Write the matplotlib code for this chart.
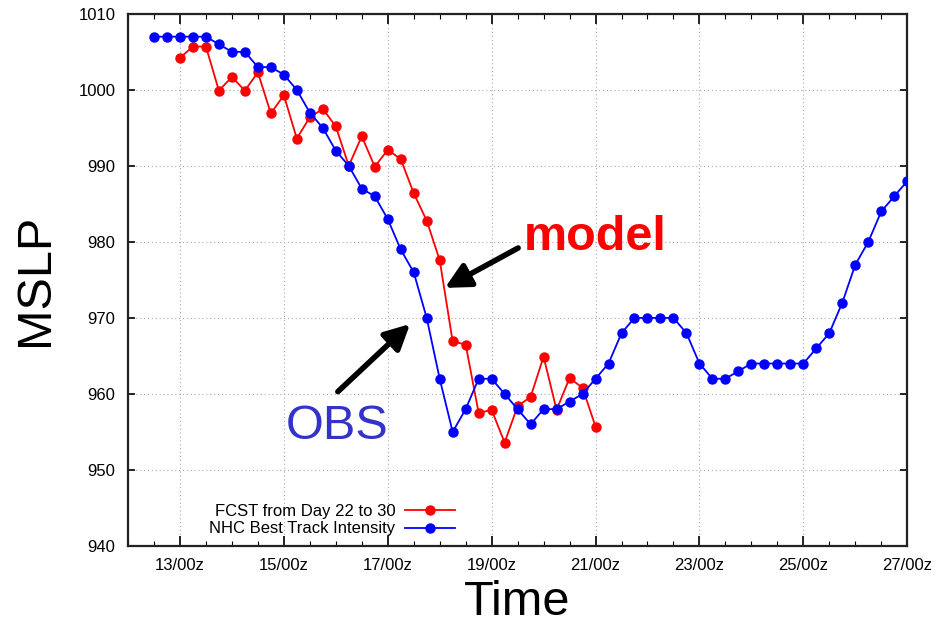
import matplotlib
matplotlib.use("Agg")
import matplotlib.pyplot as plt
from matplotlib.ticker import MultipleLocator, FixedLocator

plt.rcParams['font.family'] = ['Liberation Sans', 'DejaVu Sans']

# Best track (observations), every 6 hours from day 12.5
obs_start = 12.5
obs_values = [1007, 1007, 1007, 1007, 1007, 1006, 1005, 1005, 1003, 1003,
              1002, 1000, 997, 995, 992, 990, 987, 986, 983, 979,
              976, 970, 962, 955, 958, 962, 962, 960, 958, 956,
              958, 958, 959, 960, 962, 964, 968, 970, 970, 970,
              970, 968, 964, 962, 962, 963, 964, 964, 964, 964,
              964, 966, 968, 972, 977, 980, 984, 986, 988]

# Model forecast, every 6 hours from day 13.0
fcst_start = 13.0
fcst_values = [1004.2, 1005.7, 1005.7, 999.9, 1001.7, 999.9, 1002.3, 996.9, 999.3, 993.6,
               996.4, 997.5, 995.2, 990.0, 993.9, 989.9, 992.1, 990.9, 986.4, 982.8,
               977.6, 966.9, 966.5, 957.5, 957.9, 953.6, 958.4, 959.6, 964.9, 957.9,
               962.1, 960.8, 955.7]

step = 0.25
obs_days = [obs_start + i * step for i in range(len(obs_values))]
fcst_days = [fcst_start + i * step for i in range(len(fcst_values))]

tick_days = [13, 15, 17, 19, 21, 23, 25, 27]
tick_labels = ["13/00z", "15/00z", "17/00z", "19/00z", "21/00z", "23/00z", "25/00z", "27/00z"]

fig = plt.figure(figsize=(9.48, 6.29), dpi=100)
ax = fig.add_axes([0.135, 0.132, 0.822, 0.846])

ax.plot(fcst_days, fcst_values, color='#ff0000', marker='o', markersize=6.5,
        linewidth=1.3, label='FCST from Day 22 to 30', zorder=3)
ax.plot(obs_days, obs_values, color='#0000ff', marker='o', markersize=6.5,
        linewidth=1.3, label='NHC Best Track Intensity', zorder=3)

ax.set_xlim(12, 27)
ax.set_ylim(940, 1010)
ax.xaxis.set_major_locator(FixedLocator(tick_days))
ax.set_xticklabels(tick_labels)
ax.xaxis.set_minor_locator(MultipleLocator(0.5))
ax.yaxis.set_major_locator(MultipleLocator(10))

ax.tick_params(axis='both', which='both', direction='in', top=True, right=True,
               labelsize=12, colors='black')
ax.tick_params(axis='x', which='major', length=7, width=1.2, pad=9)
ax.tick_params(axis='x', which='minor', length=3.5, width=0.8)
ax.tick_params(axis='y', which='major', length=5, width=1.2, pad=9)

for s in ax.spines.values():
    s.set_linewidth(1.6)
    s.set_color('#222222')

ax.grid(True, which='major', linestyle=(0, (1, 2.5)), color='#aaaaaa', linewidth=0.8)
ax.set_axisbelow(True)

ax.set_xlabel('Time', fontsize=35, labelpad=5)
ax.set_ylabel('MSLP', fontsize=35, labelpad=15)

leg = ax.legend(loc='lower right', bbox_to_anchor=(0.42, 0.018), frameon=False,
                markerfirst=False, fontsize=12, handlelength=3.0, handletextpad=0.6,
                labelspacing=0.15, borderpad=0, borderaxespad=0)

ax.annotate('', xy=(18.10, 973.95), xytext=(19.51, 979.2),
            arrowprops=dict(arrowstyle='-|>,head_length=0.75,head_width=0.38',
                            lw=4, color='black', mutation_scale=20, shrinkA=0, shrinkB=0))
ax.annotate('', xy=(17.43, 969.2), xytext=(16.04, 960.3),
            arrowprops=dict(arrowstyle='-|>,head_length=0.75,head_width=0.38',
                            lw=4, color='black', mutation_scale=20, shrinkA=0, shrinkB=0))

ax.text(19.61, 978.95, 'model', color='#ff0000', fontsize=35, fontweight='bold',
        ha='left', va='baseline')
ax.text(16.02, 954.1, 'OBS', color='#3333cc', fontsize=35, ha='center', va='baseline')

fig.savefig('out.png', dpi=100)
